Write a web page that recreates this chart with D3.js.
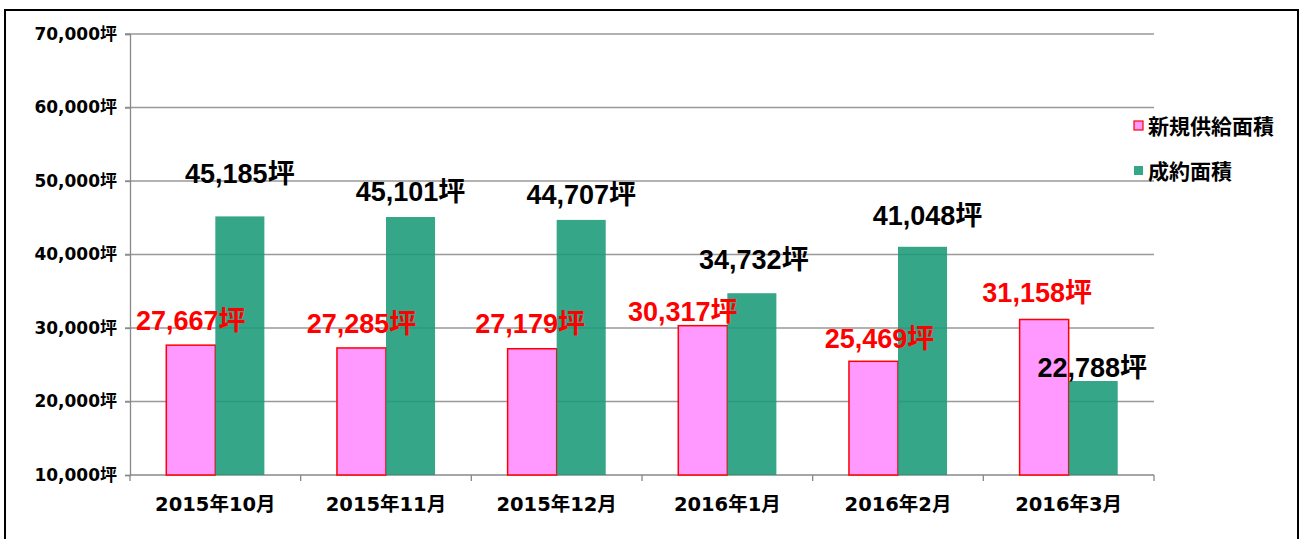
<!DOCTYPE html>
<html>
<head>
<meta charset="utf-8">
<script src="https://cdn.jsdelivr.net/npm/d3@7"></script>
<style>
  body { margin: 0; background: #fff; }
  svg { display: block; }
</style>
</head>
<body>
<div id="chart"></div>
<script>
// data
const months = ["2015年10月", "2015年11月", "2015年12月", "2016年1月", "2016年2月", "2016年3月"];
const supply = [27667, 27285, 27179, 30317, 25469, 31158];   // 新規供給面積
const contract = [45185, 45101, 44707, 34732, 41048, 22788]; // 成約面積
const yTicks = [10000, 20000, 30000, 40000, 50000, 60000, 70000];

// label nudges (manual placement in the original)
const supplyLabelShift = [[0, -15], [0, -15], [-2, -16], [-20, -5], [6, -13], [-7, -17]];
const contractLabelShift = [[0, -33], [0, -16], [0, -16], [2, -24], [5, -22], [-1, -4]];

const width = 1302, height = 539;
const margin = { left: 130, right: 148, top: 34, bottom: 64 };

const svg = d3.select("#chart").append("svg")
  .attr("width", width)
  .attr("height", height);

// outer frame
svg.append("rect")
  .attr("x", 5).attr("y", 10)
  .attr("width", 1293).attr("height", 540)
  .attr("fill", "none")
  .attr("stroke", "#000")
  .attr("stroke-width", 2);

const x = d3.scaleBand()
  .domain(months)
  .range([margin.left, 1154]);

const y = d3.scaleLinear()
  .domain([10000, 70000])
  .range([475, margin.top]);

const inner = d3.scaleBand()
  .domain(["supply", "contract"])
  .range([0, x.bandwidth()])
  .paddingOuter(0.74)
  .paddingInner(0);

const numFont = "'DejaVu Sans', 'Noto Sans CJK JP', sans-serif";
const lblFont = "'Liberation Sans', Arial, 'Noto Sans CJK JP', sans-serif";
const fmt = d3.format(",");

// gridlines
svg.append("g")
  .selectAll("line")
  .data(yTicks.slice(1))
  .join("line")
  .attr("x1", margin.left - 5)
  .attr("x2", 1154)
  .attr("y1", d => y(d))
  .attr("y2", d => y(d))
  .attr("stroke", "#999")
  .attr("stroke-width", 1.3);

// y axis
const yAxis = svg.append("g")
  .attr("transform", `translate(${margin.left},0)`)
  .call(d3.axisLeft(y).tickValues(yTicks).tickSize(5).tickPadding(8)
    .tickFormat(d => fmt(d) + "坪"));
yAxis.select(".domain").attr("stroke", "#888").attr("stroke-width", 1.3);
yAxis.selectAll(".tick line").attr("stroke", "#888").attr("stroke-width", 1.3);
yAxis.selectAll("text")
  .attr("font-family", numFont)
  .attr("font-weight", "bold")
  .attr("font-size", 17)
  .attr("fill", "#000");

// x axis with boundary ticks
const xg = svg.append("g");
xg.append("line")
  .attr("x1", margin.left).attr("x2", 1154)
  .attr("y1", 475).attr("y2", 475)
  .attr("stroke", "#888").attr("stroke-width", 1.3);
const bounds = months.map(m => x(m)).concat([x(months[months.length - 1]) + x.bandwidth()]);
xg.selectAll("line.tk")
  .data(bounds)
  .join("line")
  .attr("class", "tk")
  .attr("x1", d => d).attr("x2", d => d)
  .attr("y1", 475).attr("y2", 481)
  .attr("stroke", "#888").attr("stroke-width", 1.3);
xg.selectAll("text")
  .data(months)
  .join("text")
  .attr("x", d => x(d) + x.bandwidth() / 2)
  .attr("y", 511)
  .attr("text-anchor", "middle")
  .attr("font-family", numFont)
  .attr("font-weight", "bold")
  .attr("font-size", 19.5)
  .text(d => d);

// bars
const groups = svg.append("g")
  .selectAll("g")
  .data(months.map((m, i) => ({ m, i })))
  .join("g")
  .attr("transform", d => `translate(${x(d.m)},0)`);

groups.append("rect")
  .attr("x", inner("supply"))
  .attr("width", inner.bandwidth())
  .attr("y", d => y(supply[d.i]))
  .attr("height", d => y(10000) - y(supply[d.i]))
  .attr("fill", "#ff99ff")
  .attr("stroke", "#ff0000")
  .attr("stroke-width", 1.5);

groups.append("rect")
  .attr("x", inner("contract"))
  .attr("width", inner.bandwidth())
  .attr("y", d => y(contract[d.i]))
  .attr("height", d => y(10000) - y(contract[d.i]))
  .attr("fill", "#1a9a78")
  .attr("fill-opacity", 0.88);

// value labels
groups.append("text")
  .attr("x", d => inner("supply") + inner.bandwidth() / 2 + supplyLabelShift[d.i][0])
  .attr("y", d => y(supply[d.i]) + supplyLabelShift[d.i][1])
  .attr("text-anchor", "middle")
  .attr("font-family", lblFont)
  .attr("font-weight", "bold")
  .attr("font-size", 27)
  .attr("fill", "#ff0000")
  .text(d => fmt(supply[d.i]) + "坪");

groups.append("text")
  .attr("x", d => inner("contract") + inner.bandwidth() / 2 + contractLabelShift[d.i][0])
  .attr("y", d => y(contract[d.i]) + contractLabelShift[d.i][1])
  .attr("text-anchor", "middle")
  .attr("font-family", lblFont)
  .attr("font-weight", "bold")
  .attr("font-size", 27)
  .attr("fill", "#000")
  .text(d => fmt(contract[d.i]) + "坪");

// legend
const legendItems = [
  { name: "新規供給面積", fill: "#ff99ff", stroke: "#ff0000" },
  { name: "成約面積", fill: "#1a9a78", stroke: "none" }
];
const legend = svg.append("g")
  .selectAll("g")
  .data(legendItems)
  .join("g")
  .attr("transform", (d, i) => `translate(1134,${126 + i * 45})`);
legend.append("rect")
  .attr("x", 0).attr("y", -5)
  .attr("width", 9).attr("height", 9)
  .attr("fill", d => d.fill)
  .attr("fill-opacity", d => d.stroke === "none" ? 0.88 : 1)
  .attr("stroke", d => d.stroke)
  .attr("stroke-width", 1.2);
legend.append("text")
  .attr("x", 14).attr("y", 0)
  .attr("dy", "0.36em")
  .attr("font-family", "'Noto Sans CJK JP', sans-serif")
  .attr("font-weight", "bold")
  .attr("font-size", 21)
  .text(d => d.name);
</script>
</body>
</html>
